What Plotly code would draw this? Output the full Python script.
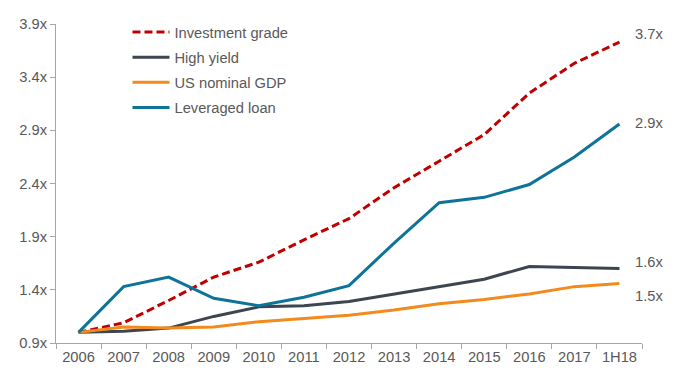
import plotly.graph_objects as go

categories = ["2006", "2007", "2008", "2009", "2010", "2011", "2012",
              "2013", "2014", "2015", "2016", "2017", "1H18"]
investment_grade = [1.00, 1.09, 1.30, 1.52, 1.66, 1.87, 2.07, 2.36, 2.61, 2.86, 3.25, 3.53, 3.73]
high_yield = [1.00, 1.01, 1.04, 1.15, 1.24, 1.25, 1.29, 1.36, 1.43, 1.50, 1.62, 1.61, 1.60]
us_nominal_gdp = [1.00, 1.05, 1.04, 1.05, 1.10, 1.13, 1.16, 1.21, 1.27, 1.31, 1.36, 1.43, 1.46]
leveraged_loan = [1.00, 1.43, 1.52, 1.32, 1.25, 1.33, 1.44, 1.84, 2.22, 2.27, 2.39, 2.65, 2.96]
y_ticks = [0.9, 1.4, 1.9, 2.4, 2.9, 3.4, 3.9]
y_tick_labels = ["0.9x", "1.4x", "1.9x", "2.4x", "2.9x", "3.4x", "3.9x"]
end_labels = ["3.7x", "2.9x", "1.6x", "1.5x"]
end_label_y = [3.81, 2.97, 1.66, 1.34]

series = [
    ("Investment grade", investment_grade, "#C00000", "8px,4px"),
    ("High yield", high_yield, "#3D4550", "solid"),
    ("US nominal GDP", us_nominal_gdp, "#F28A1E", "solid"),
    ("Leveraged loan", leveraged_loan, "#0E7497", "solid"),
]

FS = 14.7

fig = go.Figure()
for i, (name, vals, color, dash) in enumerate(series):
    fig.add_trace(go.Scatter(
        x=categories, y=vals, name=name, mode="lines",
        line=dict(color=color, width=3, dash=dash),
        legendgroup=str(i),
    ))

for txt, yv in zip(end_labels, end_label_y):
    fig.add_annotation(x=1, xref="paper", y=yv, yref="y", text=txt,
                       showarrow=False, xanchor="left", xshift=-9,
                       font=dict(size=FS, color="#595959"))

fig.update_layout(
    width=664, height=365,
    margin=dict(l=48, r=30, t=16, b=30, autoexpand=False),
    paper_bgcolor="white", plot_bgcolor="white",
    font=dict(family="Liberation Sans, Arial, sans-serif", size=FS, color="#595959"),
    showlegend=True,
    legend=dict(x=0.122, y=1.025, xanchor="left", yanchor="top",
                bgcolor="rgba(0,0,0,0)", tracegroupgap=3, itemwidth=37,
                traceorder="grouped", font=dict(size=FS, color="#595959")),
    xaxis=dict(type="category", showgrid=False, showline=True, linecolor="#A6A6A6",
               linewidth=1, ticks="outside", tickson="boundaries", ticklen=5,
               tickcolor="#A6A6A6", tickfont=dict(size=FS, color="#595959"),
               range=[-0.5, 12.5]),
    yaxis=dict(range=[0.9, 3.9], tickvals=y_ticks, ticktext=y_tick_labels,
               showgrid=False, showline=True, linecolor="#A6A6A6", linewidth=1,
               ticks="outside", ticklen=5, tickcolor="#A6A6A6", zeroline=False,
               tickfont=dict(size=FS, color="#595959")),
)

fig.write_html("out.html")
